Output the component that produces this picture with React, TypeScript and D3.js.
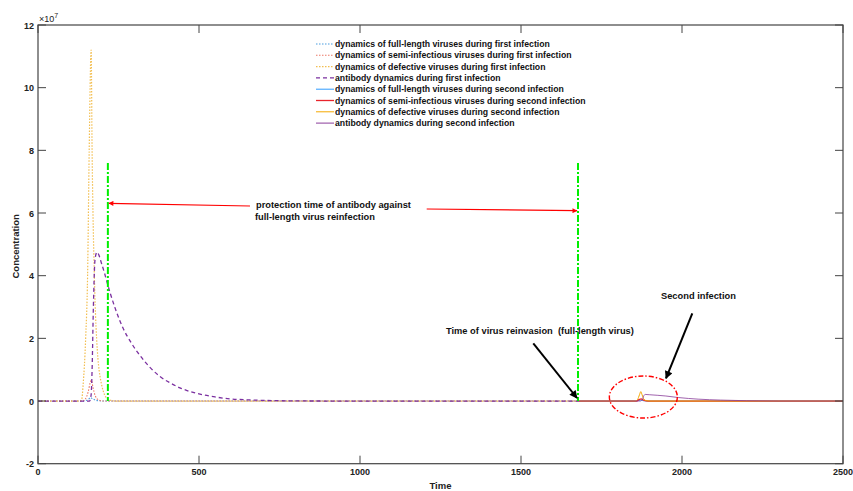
import React, { useEffect, useRef } from 'react';
import * as d3 from 'd3';

// time / concentration (x1e7) pairs
const fullFirst: [number, number][] = [
  [0, 0], [140, 0], [150, 0.02], [158, 0.07], [163, 0.11], [168, 0.08], [176, 0.04], [188, 0.01], [205, 0], [1680, 0],
];
const semiFirst: [number, number][] = [
  [0, 0], [138, 0], [148, 0.08], [156, 0.3], [162, 0.58], [166, 0.66], [171, 0.42], [178, 0.16], [188, 0.04], [202, 0], [1680, 0],
];
const defFirst: [number, number][] = [
  [0, 0], [130, 0], [136, 0.06], [140, 0.5], [148, 2], [154, 4], [159, 8], [165, 11.2], [168, 8], [175, 4], [182, 2], [198, 0.5], [217, 0.06], [240, 0], [1680, 0],
];
const abFirst: [number, number][] = [
  [0, 0], [160, 0], [165, 0.2], [168, 1], [172, 3], [177, 4.5], [183, 4.75], [200, 4.3], [224, 3.45], [240, 2.95], [264, 2.33], [290, 1.85],
  [317, 1.45], [350, 1.05], [379, 0.78], [410, 0.58], [441, 0.42], [470, 0.31], [503, 0.22], [550, 0.13], [596, 0.07], [650, 0.04], [752, 0.01], [900, 0], [1680, 0],
];
const fullSecond: [number, number][] = [
  [1680, 0], [1855, 0], [1866, 0.02], [1872, 0.03], [1880, 0.01], [1895, 0], [2500, 0],
];
const semiSecond: [number, number][] = [
  [1680, 0], [1858, 0], [1868, 0.05], [1873, 0.07], [1880, 0.03], [1895, 0], [2500, 0],
];
const defSecond: [number, number][] = [
  [1680, 0], [1855, 0], [1862, 0.05], [1868, 0.2], [1872, 0.3], [1876, 0.2], [1882, 0.05], [1890, 0.01], [1900, 0], [2500, 0],
];
const abSecond: [number, number][] = [
  [1680, 0], [1870, 0], [1877, 0.05], [1882, 0.18], [1886, 0.21], [1900, 0.2], [1950, 0.16], [1990, 0.11], [2050, 0.06], [2120, 0.03], [2200, 0.01], [2300, 0], [2500, 0],
];

const legendLabels = [
  'dynamics of full-length viruses during first infection',
  'dynamics of semi-infectious viruses during first infection',
  'dynamics of defective viruses during first infection',
  'antibody dynamics during first infection',
  'dynamics of full-length viruses during second infection',
  'dynamics of semi-infectious viruses during second infection',
  'dynamics of defective viruses during second infection',
  'antibody dynamics during second infection',
];

const xTicks = [0, 500, 1000, 1500, 2000, 2500];
const yTicks = [-2, 0, 2, 4, 6, 8, 10, 12];
const protectionTimes = [217, 1677];

const App = () => {
  const ref = useRef<SVGSVGElement | null>(null);

  useEffect(() => {
    const svg = d3.select(ref.current);
    svg.selectAll('*').remove();
    const W = 853, H = 491;
    const L = 38, R = 843, T = 25, B = 463.7;
    const x = d3.scaleLinear().domain([0, 2500]).range([L, R]);
    const y = d3.scaleLinear().domain([-2, 12]).range([B, T]);
    const font = 'Liberation Sans, Arial, sans-serif';

    svg.append('rect').attr('width', W).attr('height', H).attr('fill', 'white');

    const styles = [
      { data: fullFirst, color: '#4a9de0', dash: '1.5,1.5', w: 1.1 },
      { data: semiFirst, color: '#ec7a68', dash: '1.5,1.5', w: 1.1 },
      { data: defFirst, color: '#f2be50', dash: '1.5,1.5', w: 1.2 },
      { data: abFirst, color: '#7b30a0', dash: '4,3', w: 1.3 },
      { data: fullSecond, color: '#2f9bff', dash: null, w: 1 },
      { data: semiSecond, color: '#e8242c', dash: null, w: 1.3 },
      { data: defSecond, color: '#f5a800', dash: null, w: 1 },
      { data: abSecond, color: '#8a3d9a', dash: null, w: 1 },
    ];

    const line = d3.line<[number, number]>()
      .x(d => x(d[0]))
      .y(d => y(d[1]))
      .curve(d3.curveMonotoneX);

    const g = svg.append('g');
    styles.forEach((s, i) => {
      g.append('path')
        .attr('d', line(s.data))
        .attr('fill', 'none')
        .attr('stroke', s.color)
        .attr('stroke-width', s.w)
        .attr('stroke-dasharray', s.dash)
        .attr('opacity', i === 7 ? 0.8 : 1);
    });

    // green protection-time lines
    protectionTimes.forEach(t => {
      svg.append('line')
        .attr('x1', x(t)).attr('x2', x(t))
        .attr('y1', y(7.6)).attr('y2', y(0))
        .attr('stroke', '#00ee00').attr('stroke-width', 2)
        .attr('stroke-dasharray', '7,2,2,2');
    });

    // box and ticks
    const axisColor = '#444';
    svg.append('rect')
      .attr('x', L).attr('y', T).attr('width', R - L).attr('height', B - T)
      .attr('fill', 'none').attr('stroke', axisColor).attr('stroke-width', 1.2);

    xTicks.forEach(t => {
      svg.append('line').attr('x1', x(t)).attr('x2', x(t)).attr('y1', B).attr('y2', B - 8).attr('stroke', axisColor);
      svg.append('line').attr('x1', x(t)).attr('x2', x(t)).attr('y1', T).attr('y2', T + 8).attr('stroke', axisColor);
      svg.append('text').attr('x', x(t)).attr('y', B + 11)
        .attr('text-anchor', 'middle').attr('font-family', font).attr('font-weight', 'bold')
        .attr('font-size', 9).attr('fill', '#222').text(t);
    });
    yTicks.forEach(t => {
      svg.append('line').attr('x1', L).attr('x2', L + 8).attr('y1', y(t)).attr('y2', y(t)).attr('stroke', axisColor);
      svg.append('line').attr('x1', R).attr('x2', R - 8).attr('y1', y(t)).attr('y2', y(t)).attr('stroke', axisColor);
      svg.append('text').attr('x', L - 4).attr('y', y(t) + 3.5)
        .attr('text-anchor', 'end').attr('font-family', font).attr('font-weight', 'bold')
        .attr('font-size', 9).attr('fill', '#222').text(t);
    });

    const exp = svg.append('text').attr('x', L + 1).attr('y', T - 3)
      .attr('font-family', font).attr('font-size', 9).attr('fill', '#222');
    exp.append('tspan').text('×10');
    exp.append('tspan').attr('dy', -4).attr('font-size', 7).text('7');

    svg.append('text').attr('x', (L + R) / 2).attr('y', 489)
      .attr('text-anchor', 'middle').attr('font-family', font).attr('font-weight', 'bold')
      .attr('font-size', 9.5).attr('fill', '#222').text('Time');
    svg.append('text')
      .attr('transform', `translate(19,${(T + B) / 2 + 2}) rotate(-90)`)
      .attr('text-anchor', 'middle').attr('font-family', font).attr('font-weight', 'bold')
      .attr('font-size', 9.5).attr('fill', '#222').text('Concentration');

    // legend
    legendLabels.forEach((lab, i) => {
      const ly = 44 + i * 11.3;
      const s = styles[i];
      svg.append('line').attr('x1', 316).attr('x2', 334).attr('y1', ly).attr('y2', ly)
        .attr('stroke', s.color).attr('stroke-width', s.w).attr('stroke-dasharray', s.dash);
      svg.append('text').attr('x', 335).attr('y', ly + 3)
        .attr('font-family', font).attr('font-weight', 'bold').attr('font-size', 8.7)
        .attr('fill', '#111').text(lab);
    });

    // arrow markers
    const defs = svg.append('defs');
    defs.append('marker').attr('id', 'redHead').attr('viewBox', '0 0 10 10')
      .attr('refX', 9).attr('refY', 5).attr('markerWidth', 7).attr('markerHeight', 5)
      .attr('orient', 'auto').attr('markerUnits', 'userSpaceOnUse')
      .append('path').attr('d', 'M0,0L10,5L0,10Z').attr('fill', '#ff0000');
    defs.append('marker').attr('id', 'blackHead').attr('viewBox', '0 0 10 10')
      .attr('refX', 9).attr('refY', 5).attr('markerWidth', 10).attr('markerHeight', 8)
      .attr('orient', 'auto').attr('markerUnits', 'userSpaceOnUse')
      .append('path').attr('d', 'M0,0L10,5L0,10Z').attr('fill', '#000');

    const arrow = (x1: number, y1: number, x2: number, y2: number, color: string, w: number, head: string) => {
      svg.append('line').attr('x1', x1).attr('y1', y1).attr('x2', x2).attr('y2', y2)
        .attr('stroke', color).attr('stroke-width', w).attr('marker-end', `url(#${head})`);
    };
    arrow(250, 206, x(217) + 1, 203.3, '#ff0000', 1.2, 'redHead');
    arrow(426.7, 209, x(1677) - 1, 210.7, '#ff0000', 1.2, 'redHead');
    arrow(533.3, 343.3, 577, 398, '#000', 2, 'blackHead');
    arrow(692.3, 313.3, 666, 378.3, '#000', 2, 'blackHead');

    const note = (tx: number, ty: number, s: string) => {
      svg.append('text').attr('x', tx).attr('y', ty)
        .attr('font-family', font).attr('font-weight', 'bold').attr('font-size', 9.3)
        .attr('fill', '#111').style('white-space', 'pre').text(s);
    };
    note(256, 207.5, 'protection time of antibody against');
    note(255, 220, 'full-length virus reinfection');
    note(446, 333.5, 'Time of virus reinvasion  (full-length virus)');
    note(661, 299, 'Second infection');

    // second-infection ellipse
    svg.append('ellipse').attr('cx', x(1880)).attr('cy', y(0) - 4).attr('rx', 34).attr('ry', 21)
      .attr('fill', 'none').attr('stroke', '#ff0000').attr('stroke-width', 1.4)
      .attr('stroke-dasharray', '5,2,1.5,2');
  }, []);

  return (
    <svg ref={ref} width={853} height={491} style={{ position: 'absolute', left: 0, top: 0 }} />
  );
};

export default App;
